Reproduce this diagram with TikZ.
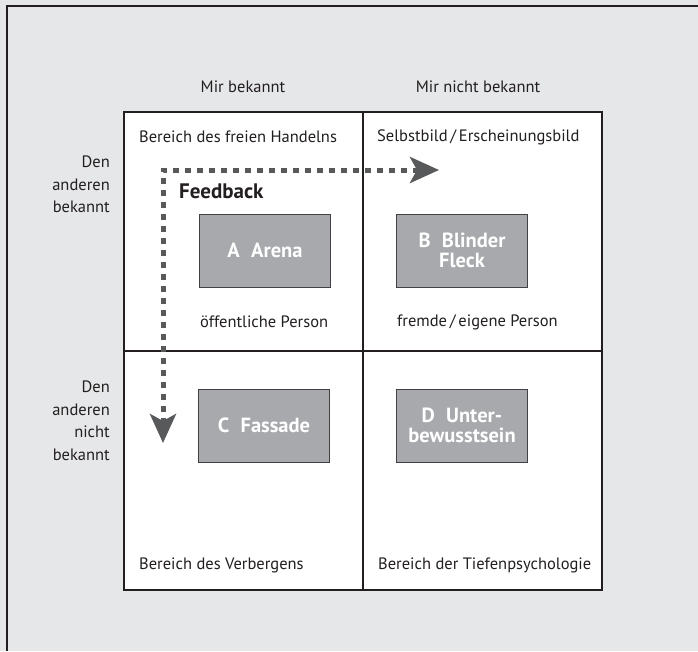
\documentclass[tikz,border=0pt]{standalone}
\usepackage{fontspec}
\setmainfont{PT Sans}
\usetikzlibrary{arrows.meta}
\definecolor{bg}{HTML}{E6E7E8}
\definecolor{ink}{HTML}{231F20}
\definecolor{boxfill}{HTML}{A7A9AC}
\definecolor{boxline}{HTML}{414042}
\definecolor{arrowgray}{HTML}{58595B}
\begin{document}
\begin{tikzpicture}[x=1pt,y=-1pt,
  lbl/.style={inner sep=0pt, text=ink, font=\fontsize{16.5}{22.5}\selectfont},
  fbtitle/.style={inner sep=0pt, text=ink, font=\fontsize{21}{22}\selectfont\bfseries},
  quad/.style={draw=boxline, line width=1pt, fill=boxfill, minimum width=131pt,
    minimum height=73pt, inner sep=0pt, align=center, text=white,
    font=\fontsize{20.5}{20}\selectfont\bfseries},
  frame/.style={draw=ink, line width=2pt},
  grid/.style={draw=ink, line width=1.1pt},
  fbarrow/.style={draw=arrowgray, line width=5pt, dash pattern=on 6pt off 6pt,
    {Stealth[length=29pt, width=26pt, inset=7pt]}-{Stealth[length=29pt, width=26pt, inset=7pt]}}
]
\useasboundingbox (0,0) rectangle (698,651);
\fill[bg] (0,0) rectangle (698,651);
% outer frame (left and top edges)
\draw[frame] (7,651) -- (7,6) -- (698,6);

% window quadrants
\fill[white] (124,112) rectangle (602,590);
\draw[grid] (363,112) -- (363,590);
\draw[grid] (124,351) -- (602,351);
\draw[draw=ink, line width=2.5pt] (124,112) rectangle (602,590);

% column headings
\node[lbl] (colA) at (243,87) {Mir bekannt};
\node[lbl] (colB) at (478,87) {Mir nicht bekannt};

% row headings
\node[lbl, align=right, anchor=north east] (rowA) at (110,156) {Den\\anderen\\bekannt};
\node[lbl, align=right, anchor=north east] (rowB) at (110,381) {Den\\anderen\\nicht\\bekannt};

% quadrant captions
\node[lbl, anchor=west] (capA) at (139,137) {Bereich des freien Handelns};
\node[lbl, anchor=west] (capB) at (377,137) {Selbstbild\,/\,Erscheinungsbild};
\node[lbl, anchor=west] (subA) at (200,322) {öffentliche Person};
\node[lbl, anchor=west] (subB) at (397,322) {fremde\,/\,eigene Person};
\node[lbl, anchor=west] (capC) at (139,565) {Bereich des Verbergens};
\node[lbl, anchor=west] (capD) at (378,565) {Bereich der Tiefenpsychologie};

% quadrant boxes
\node[quad] (A) at (265,250.5) {A\hspace{0.55em}Arena};
\node[quad] (B) at (462,250.5) {B\hspace{0.55em}Blinder\\Fleck};
\node[quad] (C) at (264,425.5) {C\hspace{0.55em}Fassade};
\node[quad] (D) at (462,425.5) {D\hspace{0.55em}Unter-\\bewusstsein};

% feedback arrow
\node[fbtitle, anchor=west] (fb) at (179,191) {Feedback};
\coordinate (fbright) at (439,170);
\coordinate (fbcorner) at (163,170);
\coordinate (fbdown) at (163,443);
\draw[fbarrow] (fbright) -- (fbcorner) -- (fbdown);
\end{tikzpicture}
\end{document}
